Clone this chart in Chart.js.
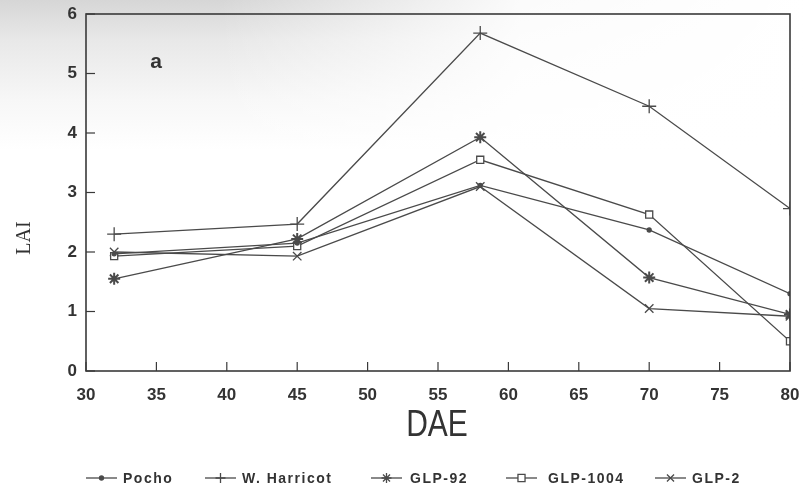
<!DOCTYPE html>
<html>
<head>
<meta charset="utf-8">
<script src="https://cdn.jsdelivr.net/npm/chart.js@4/dist/chart.umd.min.js"></script>
<style>
  html, body { margin: 0; padding: 0; background: #fff; }
  #wrap { position: relative; width: 806px; height: 491px;
    background:
      linear-gradient(90deg, rgba(255,255,255,0) 0px, rgba(255,255,255,0) 220px, rgba(255,255,255,0.9) 520px, #fff 806px),
      linear-gradient(180deg, #d6d6d6 0px, #e8e8e8 40px, #f7f7f7 100px, #ffffff 150px); }
  canvas { display: block; }
</style>
</head>
<body>
<div id="wrap"><canvas id="c" width="806" height="491"></canvas></div>
<script>
// Days after emergence (x) and leaf area index per cultivar
const dae      = [32, 45, 58, 70, 80];
const pocho    = [1.97, 2.15, 3.12, 2.37, 1.30];
const harricot = [2.30, 2.47, 5.68, 4.45, 2.73];
const glp92    = [1.55, 2.22, 3.93, 1.57, 0.95];
const glp1004  = [1.93, 2.10, 3.55, 2.63, 0.50];
const glp2     = [2.00, 1.93, 3.10, 1.05, 0.92];

const xTicks = [30, 35, 40, 45, 50, 55, 60, 65, 70, 75, 80];
const yTicks = [0, 1, 2, 3, 4, 5, 6];

const seriesNames = ['Pocho', 'W. Harricot', 'GLP-92', 'GLP-1004', 'GLP-2'];
const seriesData  = [pocho, harricot, glp92, glp1004, glp2];

const INK = '#4a4a4a';
const styles = [
  { pointStyle: 'circle',   radius: 2,   fill: true  },
  { pointStyle: 'cross',    radius: 7,   fill: false },
  { pointStyle: 'star',     radius: 6,   fill: false },
  { pointStyle: 'rect',     radius: 5,   fill: false },
  { pointStyle: 'crossRot', radius: 6,   fill: false }
];

const datasets = seriesData.map((vals, i) => ({
  label: seriesNames[i],
  data: vals.map((v, j) => ({ x: dae[j], y: v })),
  borderColor: INK,
  borderWidth: 1.3,
  pointStyle: styles[i].pointStyle,
  pointRadius: styles[i].radius,
  pointBorderWidth: i === 2 ? 2 : 1.3,
  pointBorderColor: INK,
  pointBackgroundColor: styles[i].fill ? INK : '#fff',
  tension: 0,
  fill: false
}));

// Frame, inward tick marks, titles, panel letter and legend
const decor = {
  id: 'decor',
  afterDraw(chart) {
    const { ctx, chartArea: a, scales: { x, y } } = chart;
    ctx.save();
    ctx.strokeStyle = '#3a3a3a';
    ctx.lineWidth = 1.6;
    ctx.strokeRect(a.left, a.top, a.right - a.left, a.bottom - a.top);
    ctx.lineWidth = 1.2;
    xTicks.forEach(t => {
      const px = x.getPixelForValue(t);
      ctx.beginPath(); ctx.moveTo(px, a.bottom); ctx.lineTo(px, a.bottom - 9); ctx.stroke();
    });
    yTicks.forEach(t => {
      const py = y.getPixelForValue(t);
      ctx.beginPath(); ctx.moveTo(a.left, py); ctx.lineTo(a.left + 9, py); ctx.stroke();
    });

    ctx.fillStyle = '#333';
    ctx.textAlign = 'center';
    ctx.textBaseline = 'middle';

    ctx.save();
    ctx.translate(437, 426);
    ctx.scale(1, 1.22);
    ctx.font = '30px "Liberation Sans", Arial, sans-serif';
    ctx.fillText('DAE', 0, 0);
    ctx.restore();

    ctx.save();
    ctx.translate(25, 238);
    ctx.rotate(-Math.PI / 2);
    ctx.font = '20px "Liberation Serif", "Times New Roman", serif';
    ctx.fillText('LAI', 0, 0);
    ctx.restore();

    ctx.font = 'bold 21px "Liberation Sans", Arial, sans-serif';
    ctx.fillText('a', 156, 62);

    // legend
    const items = [
      { lx: 86,  tx: 123 },
      { lx: 205, tx: 242 },
      { lx: 371, tx: 410 },
      { lx: 506, tx: 548 },
      { lx: 655, tx: 692 }
    ];
    const ly = 478;
    ctx.font = 'bold 14px "Liberation Sans", Arial, sans-serif';
    ctx.letterSpacing = '1.5px';
    ctx.textAlign = 'left';
    items.forEach((it, i) => {
      const ds = chart.data.datasets[i];
      ctx.strokeStyle = INK;
      ctx.lineWidth = 1.3;
      ctx.beginPath(); ctx.moveTo(it.lx, ly); ctx.lineTo(it.lx + 31, ly); ctx.stroke();
      ctx.fillStyle = styles[i].fill ? INK : '#fff';
      Chart.helpers.drawPoint(ctx, {
        pointStyle: ds.pointStyle,
        radius: Math.min(ds.pointRadius, 5),
        borderWidth: 1.2,
        rotation: 0
      }, it.lx + 15.5, ly);
      ctx.fillStyle = '#333';
      ctx.fillText(seriesNames[i], it.tx, ly + 1);
    });
    ctx.restore();
  }
};

new Chart(document.getElementById('c'), {
  type: 'line',
  data: { datasets },
  options: {
    responsive: false,
    animation: false,
    layout: { padding: { left: 0, right: 0, top: 0, bottom: 0 } },
    plugins: { legend: { display: false }, tooltip: { enabled: false } },
    scales: {
      x: {
        type: 'linear', min: 30, max: 80,
        afterBuildTicks: s => { s.ticks = xTicks.map(v => ({ value: v })); },
        afterFit: s => { s.height = 120; s.paddingRight = 16; s.paddingLeft = 0; },
        grid: { display: false, drawTicks: false },
        border: { display: false },
        ticks: {
          padding: 14, color: '#333',
          font: { family: '"Liberation Sans", Arial, sans-serif', size: 17, weight: 'bold' },
          maxRotation: 0
        }
      },
      y: {
        type: 'linear', min: 0, max: 6,
        afterBuildTicks: s => { s.ticks = yTicks.map(v => ({ value: v })); },
        afterFit: s => { s.width = 86; s.paddingTop = 14; s.paddingBottom = 0; },
        grid: { display: false, drawTicks: false },
        border: { display: false },
        ticks: {
          padding: 9, color: '#333',
          font: { family: '"Liberation Sans", Arial, sans-serif', size: 17, weight: 'bold' }
        }
      }
    }
  },
  plugins: [decor]
});
</script>
</body>
</html>
